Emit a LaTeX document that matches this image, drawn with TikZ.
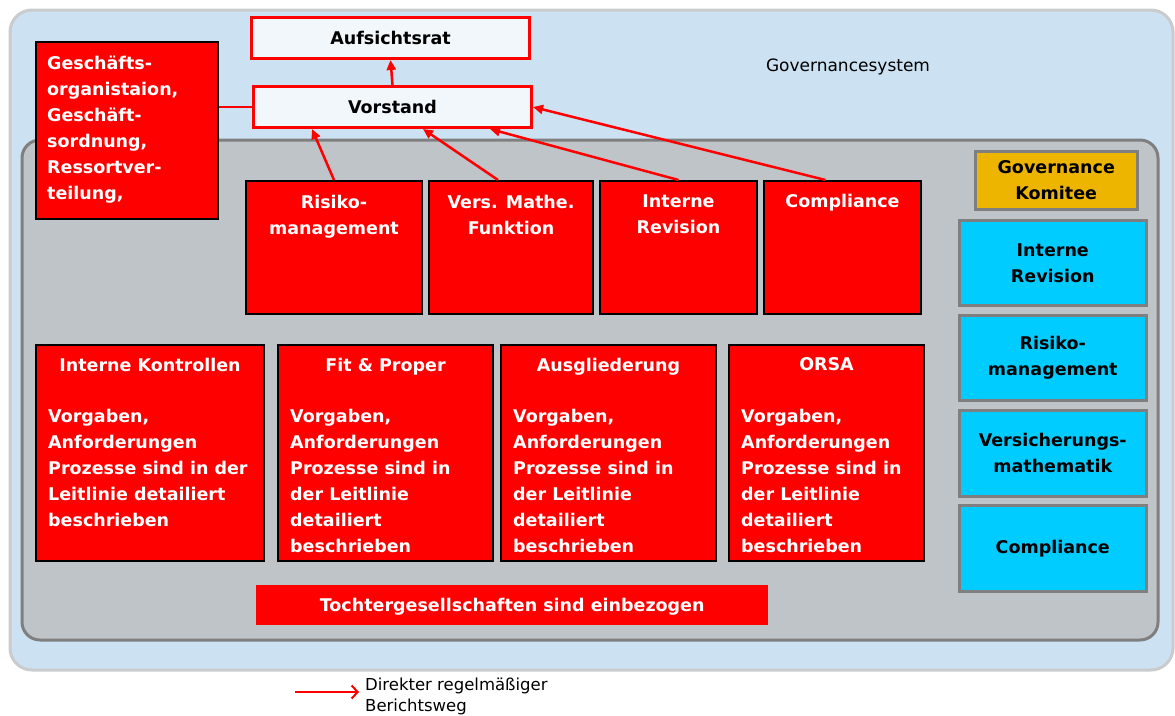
\documentclass[tikz,border=0pt]{standalone}
\usepackage{fontspec}
\setmainfont{DejaVu Sans}
\usetikzlibrary{arrows.meta,calc}
\definecolor{outerfill}{HTML}{CCE2F2}
\definecolor{outerline}{HTML}{C9CBCD}
\definecolor{innerfill}{HTML}{BFC4C9}
\definecolor{innerline}{HTML}{7F7F7F}
\definecolor{boxred}{HTML}{FF0000}
\definecolor{palebox}{HTML}{F2F7FB}
\definecolor{goldbox}{HTML}{EDB500}
\definecolor{cyanbox}{HTML}{00CCFF}
\begin{document}
\begin{tikzpicture}[x=1pt,y=-1pt,
  bftext/.style={font=\fontsize{17.5}{26}\selectfont\bfseries, inner sep=0pt},
  wtext/.style={bftext, text=white},
  ktext/.style={bftext, text=black},
  redbox/.style={draw=black, line width=2pt, fill=boxred, anchor=north west, inner sep=0pt},
  palered/.style={draw=boxred, line width=3pt, fill=palebox, anchor=north west, inner sep=0pt},
  cyanstyle/.style={draw=innerline, line width=2.5pt, fill=cyanbox, anchor=north west, inner sep=0pt},
  goldstyle/.style={draw=innerline, line width=2.5pt, fill=goldbox, anchor=north west, inner sep=0pt},
  redline/.style={draw=boxred, line width=2.5pt},
  arr/.style={redline, -{Triangle[length=10pt,width=9pt]}},
  legarr/.style={draw=boxred, line width=2.5pt, -{Straight Barb[length=6pt,width=13pt,line width=2pt]}},
]
\useasboundingbox (0,0) rectangle (1175,715);
% outer and inner frames
\path[fill=outerfill, draw=outerline, line width=3pt, rounded corners=22pt] (10,10) rectangle (1173,670);
\path[fill=innerfill, draw=innerline, line width=3pt, rounded corners=18pt] (22,140) rectangle (1158,640);
\node[font=\fontsize{17}{20}\selectfont, inner sep=0pt] (gs) at (848,67) {Governancesystem};

% top boxes
\node[palered, minimum width=278, minimum height=41] (auf) at (250,16) {};
\node[ktext] at (auf.center) {Aufsichtsrat};
\node[palered, minimum width=278, minimum height=41] (vor) at (252,85) {};
\node[ktext] at (vor.center) {Vorstand};

% Geschaeftsorganisation box
\node[redbox, minimum width=182, minimum height=177] (gesch) at (35,41) {};
\node[wtext, anchor=north west, align=left] at ($(gesch.north west)+(12,14.5)$)
  {Geschäfts-\\organistaion,\\Geschäft-\\sordnung,\\Ressortver-\\teilung,};

% row 1
\node[redbox, minimum width=176, minimum height=133] (rm) at (245,180) {};
\node[redbox, minimum width=164, minimum height=133] (vm) at (428,180) {};
\node[redbox, minimum width=157, minimum height=133] (ir) at (599,180) {};
\node[redbox, minimum width=157, minimum height=133] (co) at (763,180) {};
\node[wtext, anchor=north, align=center] at ($(rm.north)+(0,14.5)$) {Risiko-\\management};
\node[wtext, anchor=north, align=center] at ($(vm.north)+(0,14.5)$) {Vers. Mathe.\\Funktion};
\node[wtext, anchor=north, align=center] at ($(ir.north)+(0,14.5)$) {Interne\\Revision};
\node[wtext, anchor=north, align=center] at ($(co.north)+(0,14.5)$) {Compliance};

% row 2
\node[redbox, minimum width=228, minimum height=216] (ik) at (35,344) {};
\node[redbox, minimum width=215, minimum height=216] (fp) at (277,344) {};
\node[redbox, minimum width=215, minimum height=216] (ag) at (500,344) {};
\node[redbox, minimum width=195, minimum height=216] (or) at (728,344) {};
\foreach \b/\t in {ik/Interne Kontrollen, fp/Fit \& Proper, ag/Ausgliederung, or/ORSA}{
  \node[wtext, anchor=north] at ($(\b.north)+(0,13.5)$) {\t};
}
\node[wtext, anchor=north west, align=left] at ($(ik.north west)+(13,64.5)$)
  {Vorgaben,\\Anforderungen\\Prozesse sind in der\\Leitlinie detailiert\\beschrieben};
\foreach \b in {fp,ag,or}{
  \node[wtext, anchor=north west, align=left] at ($(\b.north west)+(13,64.5)$)
    {Vorgaben,\\Anforderungen\\Prozesse sind in\\der Leitlinie\\detailiert\\beschrieben};
}

% subsidiaries bar
\node[fill=boxred, anchor=north west, minimum width=512, minimum height=40, inner sep=0pt] (toch) at (256,585) {};
\node[wtext] at ($(toch.center)+(0,1.5)$) {Tochtergesellschaften sind einbezogen};

% right column
\node[goldstyle, minimum width=162, minimum height=58] (gk) at (974,150) {};
\node[ktext, align=center] at (gk.center) {Governance\\Komitee};
\node[cyanstyle, minimum width=187, minimum height=85] (cir) at (958,219) {};
\node[cyanstyle, minimum width=187, minimum height=85] (crm) at (958,314) {};
\node[cyanstyle, minimum width=187, minimum height=86] (cvm) at (958,409) {};
\node[cyanstyle, minimum width=187, minimum height=86] (cco) at (958,504) {};
\node[ktext, align=center] at (cir.center) {Interne\\Revision};
\node[ktext, align=center] at (crm.center) {Risiko-\\management};
\node[ktext, align=center] at (cvm.center) {Versicherungs-\\mathematik};
\node[ktext, align=center] at (cco.center) {Compliance};

% connectors
\draw[redline] (gesch.east |- vor.west) -- (vor.west);
\draw[arr] (vor.north) -- (auf.south);
\draw[arr] (rm.north) -- ($(vor.south west)+(60,0)$);
\draw[arr] ($(vm.north)+(-13,0)$) -- ($(vor.south west)+(171,0)$);
\draw[arr] (ir.north) -- ($(vor.south west)+(238,0)$);
\draw[arr] ($(co.north)+(-17,0)$) -- (vor.east);

% legend
\coordinate (la) at (295,692);
\coordinate (lb) at (359,692);
\draw[legarr] (la) -- (lb);
\node[font=\fontsize{16.5}{21}\selectfont, inner sep=0pt, anchor=north west, align=left] (legtext) at (365,678)
  {Direkter regelmäßiger\\Berichtsweg};
\end{tikzpicture}
\end{document}
